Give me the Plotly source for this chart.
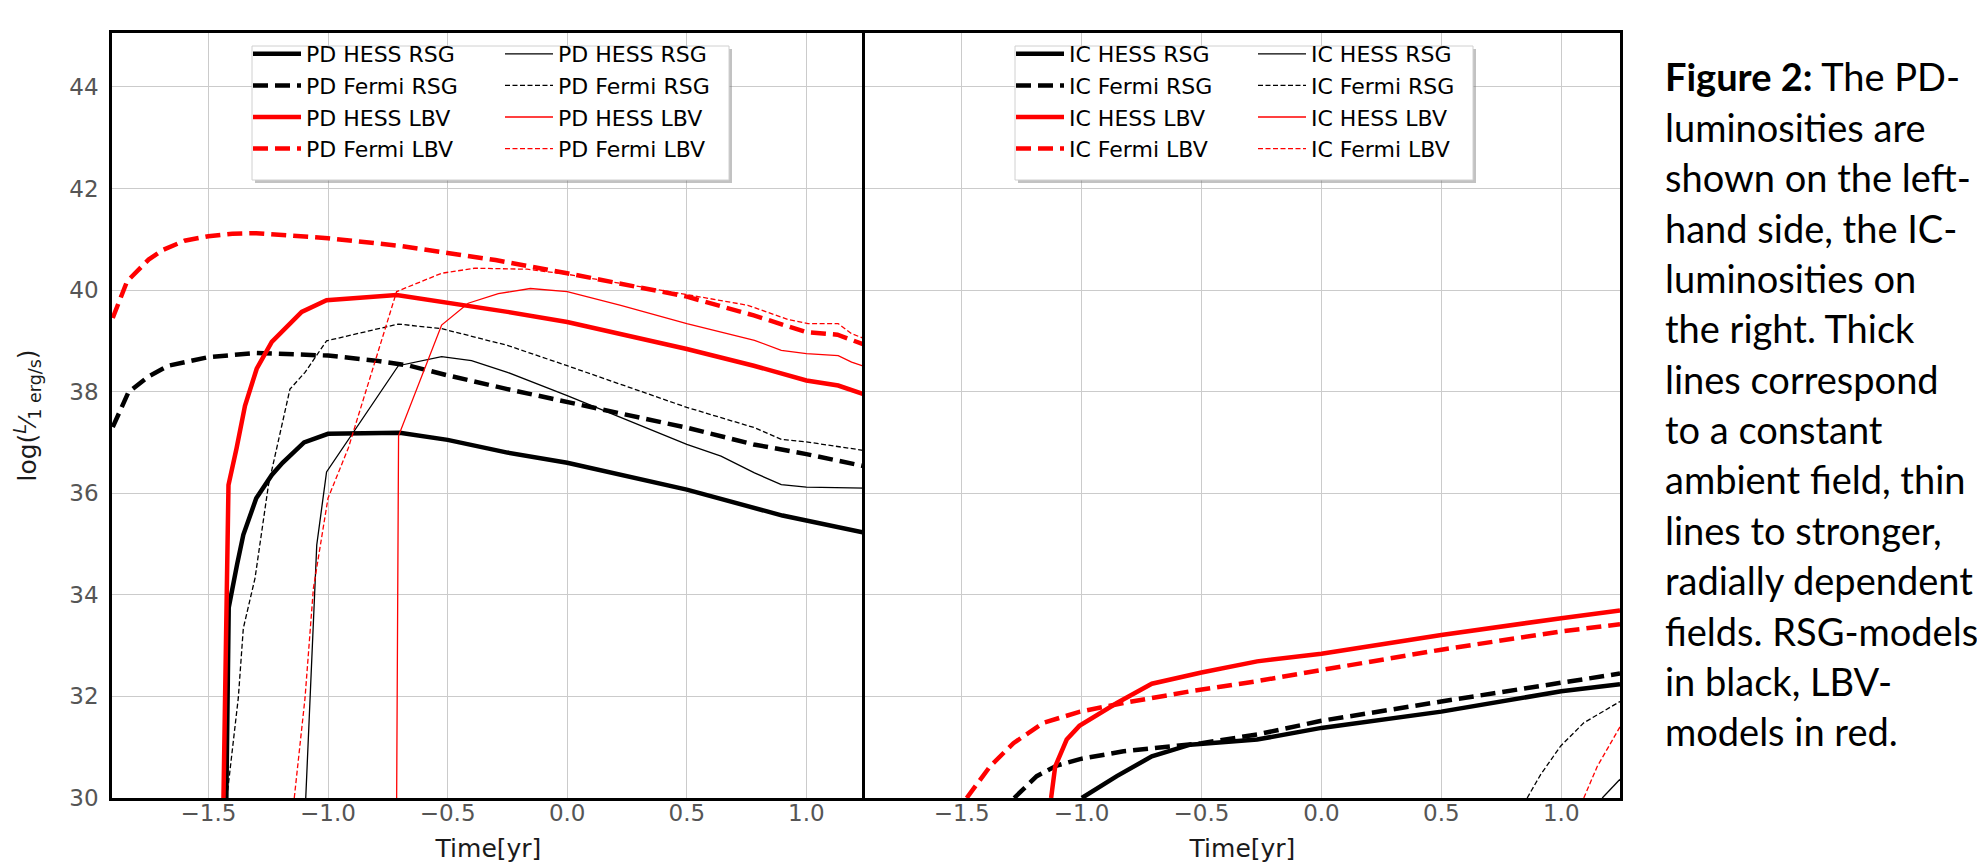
import plotly.graph_objects as go
from plotly.subplots import make_subplots

# ---------------- data: PD (left panel) ----------------
pd_hess_rsg_x = [-1.425, -1.415, -1.38, -1.354, -1.30, -1.235, -1.19, -1.10, -1.0, -0.85, -0.70, -0.5, -0.25, 0.0, 0.5, 0.9, 1.245]
pd_hess_rsg_y = [30.0, 33.75, 34.6, 35.18, 35.9, 36.36, 36.6, 37.0, 37.17, 37.18, 37.19, 37.05, 36.8, 36.6, 36.07, 35.56, 35.22]

pd_fermi_rsg_x = [-1.9, -1.834, -1.75, -1.667, -1.5, -1.3, -1.0, -0.8, -0.66, -0.5, -0.25, 0.0, 0.5, 0.78, 1.0, 1.245]
pd_fermi_rsg_y = [37.3, 37.99, 38.3, 38.51, 38.68, 38.76, 38.71, 38.61, 38.51, 38.32, 38.05, 37.79, 37.29, 36.96, 36.77, 36.53]

pd_hess_lbv_x = [-1.437, -1.423, -1.416, -1.382, -1.347, -1.298, -1.235, -1.11, -1.006, -0.713, -0.525, -0.25, 0.0, 0.5, 0.78, 1.0, 1.133, 1.245]
pd_hess_lbv_y = [30.0, 33.6, 36.16, 36.89, 37.72, 38.45, 38.98, 39.57, 39.80, 39.90, 39.77, 39.57, 39.37, 38.84, 38.51, 38.22, 38.12, 37.94]

pd_fermi_lbv_x = [-1.9, -1.84, -1.75, -1.69, -1.6, -1.5, -1.4, -1.3, -1.0, -0.7, -0.5, -0.3, 0.0, 0.5, 0.78, 1.0, 1.13, 1.245]
pd_fermi_lbv_y = [39.45, 40.17, 40.6, 40.79, 40.97, 41.06, 41.11, 41.12, 41.02, 40.87, 40.73, 40.59, 40.33, 39.87, 39.50, 39.17, 39.12, 38.92]

pd_hess_rsg_b_x = [-1.093, -1.075, -1.047, -1.006, -0.706, -0.525, -0.4, -0.25, 0.0, 0.5, 0.643, 0.783, 0.895, 1.0, 1.245]
pd_hess_rsg_b_y = [30.0, 31.97, 34.98, 36.42, 38.51, 38.69, 38.61, 38.38, 37.92, 36.96, 36.73, 36.40, 36.17, 36.12, 36.10]

pd_fermi_rsg_b_x = [-1.423, -1.375, -1.354, -1.305, -1.249, -1.159, -1.096, -1.006, -0.706, -0.525, -0.25, 0.0, 0.5, 0.783, 0.895, 1.0, 1.245]
pd_fermi_rsg_b_y = [30.0, 31.97, 33.34, 34.33, 36.16, 38.05, 38.38, 39.0, 39.33, 39.24, 38.91, 38.51, 37.69, 37.29, 37.06, 37.01, 36.84]

pd_hess_lbv_b_x = [-0.713, -0.705, -0.525, -0.414, -0.288, -0.154, 0.0, 0.224, 0.5, 0.783, 0.895, 1.0, 1.133, 1.189, 1.245]
pd_hess_lbv_b_y = [30.0, 37.13, 39.31, 39.74, 39.93, 40.03, 39.97, 39.70, 39.34, 39.01, 38.81, 38.75, 38.71, 38.58, 38.49]

pd_fermi_lbv_b_x = [-1.141, -1.096, -1.061, -1.0, -0.915, -0.804, -0.713, -0.525, -0.386, -0.168, 0.0, 0.5, 0.755, 0.923, 1.007, 1.133, 1.189, 1.245]
pd_fermi_lbv_b_y = [30.0, 31.97, 34.13, 35.9, 36.89, 38.58, 39.97, 40.33, 40.43, 40.41, 40.31, 39.91, 39.70, 39.42, 39.34, 39.34, 39.14, 39.04]

# ---------------- data: IC (right panel) ----------------
ic_hess_rsg_x = [-0.999, -0.853, -0.707, -0.547, -0.268, 0.0, 0.5, 1.0, 1.245]
ic_hess_rsg_y = [30.0, 30.43, 30.82, 31.05, 31.15, 31.38, 31.70, 32.10, 32.24]

ic_fermi_rsg_x = [-1.281, -1.187, -1.103, -1.003, -0.825, -0.5, -0.268, 0.0, 0.5, 1.0, 1.245]
ic_fermi_rsg_y = [30.0, 30.43, 30.64, 30.77, 30.92, 31.08, 31.25, 31.52, 31.90, 32.26, 32.45]

ic_hess_lbv_x = [-1.127, -1.110, -1.062, -1.009, -0.853, -0.707, -0.5, -0.268, 0.0, 0.5, 1.0, 1.245]
ic_hess_lbv_y = [30.0, 30.62, 31.15, 31.42, 31.87, 32.25, 32.47, 32.69, 32.84, 33.21, 33.54, 33.69]

ic_fermi_lbv_x = [-1.479, -1.382, -1.284, -1.159, -1.006, -0.825, -0.547, -0.268, 0.0, 0.5, 1.0, 1.245]
ic_fermi_lbv_y = [30.0, 30.62, 31.08, 31.48, 31.70, 31.87, 32.10, 32.30, 32.52, 32.92, 33.28, 33.42]

ic_hess_rsg_b_x = [1.171, 1.245]
ic_hess_rsg_b_y = [30.0, 30.37]

ic_fermi_rsg_b_x = [0.858, 0.914, 0.997, 1.094, 1.245]
ic_fermi_rsg_b_y = [30.0, 30.46, 31.02, 31.48, 31.90]

# stays below the visible range (only its legend entry is seen)
ic_hess_lbv_b_x = [None]
ic_hess_lbv_b_y = [None]

ic_fermi_lbv_b_x = [1.094, 1.15, 1.245]
ic_fermi_lbv_b_y = [30.0, 30.62, 31.40]

# ---------------- ticks / text ----------------
x_tickvals = [-1.5, -1.0, -0.5, 0.0, 0.5, 1.0]
x_ticktext = ["\u22121.5", "\u22121.0", "\u22120.5", "0.0", "0.5", "1.0"]
y_tickvals = [30, 32, 34, 36, 38, 40, 42, 44]
y_ticktext = ["30", "32", "34", "36", "38", "40", "42", "44"]

caption_lines = [
    "<b>Figure 2:</b> The PD-",
    "luminosities are",
    "shown on the left-",
    "hand side, the IC-",
    "luminosities on",
    "the right. Thick",
    "lines correspond",
    "to a constant",
    "ambient field, thin",
    "lines to stronger,",
    "radially dependent",
    "fields. RSG-models",
    "in black, LBV-",
    "models in red.",
]

# ---------------- figure ----------------
W, H = 1985, 866
ML, MR, MT, MB = 104, 373, 25, 76
PW, PH = W - ML - MR, H - MT - MB


def px2paper_x(px):
    return (px - ML) / PW


def px2paper_y(py):
    return (H - MB - py) / PH


fig = make_subplots(rows=1, cols=2, shared_yaxes=True, horizontal_spacing=0)

THICK, THIN = 4.5, 1.3
DASH_THICK = "15px,7px"
DASH_THIN = "5px,2.5px"

series = [
    # (x, y, name, color, width, dash, col, legend)
    (pd_hess_rsg_x, pd_hess_rsg_y, "PD HESS RSG", "black", THICK, "solid", 1, "legend"),
    (pd_fermi_rsg_x, pd_fermi_rsg_y, "PD Fermi RSG", "black", THICK, DASH_THICK, 1, "legend"),
    (pd_hess_lbv_x, pd_hess_lbv_y, "PD HESS LBV", "red", THICK, "solid", 1, "legend"),
    (pd_fermi_lbv_x, pd_fermi_lbv_y, "PD Fermi LBV", "red", THICK, DASH_THICK, 1, "legend"),
    (pd_hess_rsg_b_x, pd_hess_rsg_b_y, "PD HESS RSG", "black", THIN, "solid", 1, "legend2"),
    (pd_fermi_rsg_b_x, pd_fermi_rsg_b_y, "PD Fermi RSG", "black", THIN, DASH_THIN, 1, "legend2"),
    (pd_hess_lbv_b_x, pd_hess_lbv_b_y, "PD HESS LBV", "red", THIN, "solid", 1, "legend2"),
    (pd_fermi_lbv_b_x, pd_fermi_lbv_b_y, "PD Fermi LBV", "red", THIN, DASH_THIN, 1, "legend2"),
    (ic_hess_rsg_x, ic_hess_rsg_y, "IC HESS RSG", "black", THICK, "solid", 2, "legend3"),
    (ic_fermi_rsg_x, ic_fermi_rsg_y, "IC Fermi RSG", "black", THICK, DASH_THICK, 2, "legend3"),
    (ic_hess_lbv_x, ic_hess_lbv_y, "IC HESS LBV", "red", THICK, "solid", 2, "legend3"),
    (ic_fermi_lbv_x, ic_fermi_lbv_y, "IC Fermi LBV", "red", THICK, DASH_THICK, 2, "legend3"),
    (ic_hess_rsg_b_x, ic_hess_rsg_b_y, "IC HESS RSG", "black", THIN, "solid", 2, "legend4"),
    (ic_fermi_rsg_b_x, ic_fermi_rsg_b_y, "IC Fermi RSG", "black", THIN, DASH_THIN, 2, "legend4"),
    (ic_hess_lbv_b_x, ic_hess_lbv_b_y, "IC HESS LBV", "red", THIN, "solid", 2, "legend4"),
    (ic_fermi_lbv_b_x, ic_fermi_lbv_b_y, "IC Fermi LBV", "red", THIN, DASH_THIN, 2, "legend4"),
]

for x, y, name, color, width, dash, col, leg in series:
    fig.add_trace(
        go.Scatter(x=x, y=y, mode="lines", name=name, legend=leg, showlegend=True,
                   line=dict(color=color, width=width, dash=dash)),
        row=1, col=col,
    )

tick_font = dict(family="DejaVu Sans", size=23, color="#555555")
fig.update_xaxes(
    range=[-1.903, 1.245], tickvals=x_tickvals, ticktext=x_ticktext,
    showgrid=True, gridcolor="#cbcbcb", gridwidth=1.3, zeroline=False,
    showline=True, linecolor="black", linewidth=2.6, mirror=True,
    ticks="", ticklabelstandoff=-7,
    tickfont=tick_font,
    title=dict(text="Time[yr]", font=dict(family="DejaVu Sans", size=25, color="#1a1a1a"), standoff=15),
)
split = px2paper_x(857)
fig.update_layout(xaxis=dict(domain=[0, split]), xaxis2=dict(domain=[split, 1]))

fig.update_yaxes(
    range=[30, 45.06], tickvals=y_tickvals, ticktext=y_ticktext,
    showgrid=True, gridcolor="#cbcbcb", gridwidth=1.3, zeroline=False,
    showline=True, linecolor="black", linewidth=2.6,
    ticks="outside", ticklen=6, tickcolor="rgba(0,0,0,0)",
    tickfont=tick_font,
)
fig.update_yaxes(
    mirror=False,
    title=dict(text="log(<sup><i>L</i></sup>\u2044<sub>1 erg/s</sub>)",
               font=dict(family="DejaVu Sans", size=25, color="#1a1a1a"), standoff=26),
    row=1, col=1,
)
fig.update_yaxes(showticklabels=False, mirror=True, row=1, col=2)

# legend boxes (frame with shadow) behind the legend text
shapes = []
for (x0, x1) in [(244, 721), (1007, 1465)]:
    shapes.append(dict(type="rect", xref="paper", yref="paper", layer="above",
                       x0=px2paper_x(x0 + 3), x1=px2paper_x(x1 + 3),
                       y0=px2paper_y(172 + 3), y1=px2paper_y(38 + 3),
                       line=dict(width=0), fillcolor="rgba(120,120,120,0.45)"))
    shapes.append(dict(type="rect", xref="paper", yref="paper", layer="above",
                       x0=px2paper_x(x0), x1=px2paper_x(x1),
                       y0=px2paper_y(172), y1=px2paper_y(38),
                       line=dict(width=1, color="#d0d0d0"), fillcolor="white"))

leg_common = dict(bgcolor="rgba(0,0,0,0)", borderwidth=0, orientation="v",
                  font=dict(family="DejaVu Sans", size=22, color="black"),
                  xanchor="left", yanchor="top", tracegroupgap=0, itemwidth=48,
                  y=px2paper_y(25))

annotations = []
for i, line in enumerate(caption_lines):
    annotations.append(dict(
        text=line, xref="paper", yref="paper", showarrow=False,
        x=px2paper_x(1655), y=px2paper_y(68.3 + 50.4 * i),
        xanchor="left", yanchor="middle", align="left",
        font=dict(family="Lato", size=38, color="black"),
    ))

fig.update_layout(
    width=W, height=H,
    margin=dict(l=ML, r=MR, t=MT, b=MB),
    paper_bgcolor="white", plot_bgcolor="white",
    font=dict(family="DejaVu Sans"),
    legend=dict(leg_common, x=px2paper_x(240)),
    legend2=dict(leg_common, x=px2paper_x(492)),
    legend3=dict(leg_common, x=px2paper_x(1003)),
    legend4=dict(leg_common, x=px2paper_x(1245)),
    shapes=shapes,
    annotations=annotations,
)

fig.write_html("out.html")
